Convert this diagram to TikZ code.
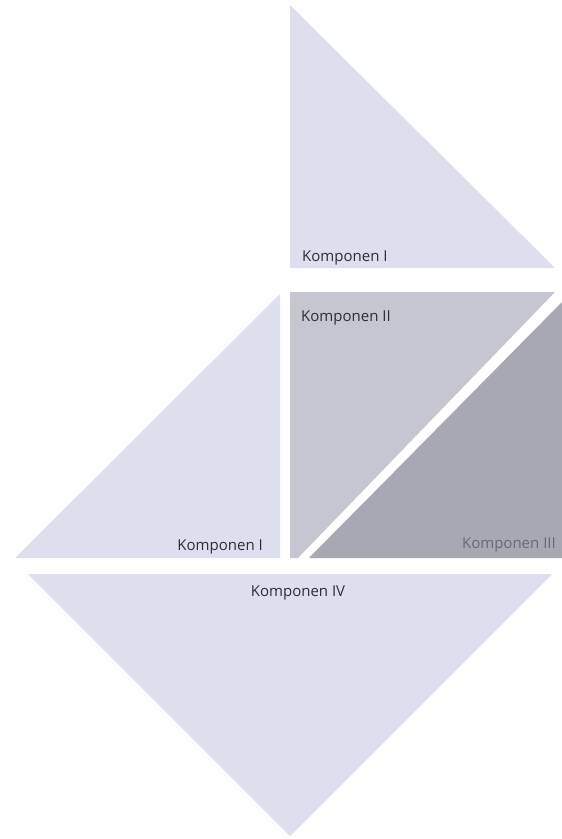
\documentclass[tikz,border=0pt]{standalone}
\usepackage{fontspec}
\setmainfont{Open Sans}
\usepackage{xcolor}
\usepackage{tikz}
\usetikzlibrary{positioning}

\definecolor{lavender}{HTML}{DEDFEE}
\definecolor{greymid}{HTML}{C6C6D1}
\definecolor{greydark}{HTML}{A8A8B2}
\definecolor{labelgrey}{HTML}{2E2E33}
\definecolor{labelsoft}{HTML}{6A6A74}

\begin{document}
\begin{tikzpicture}[x=1pt,y=-1pt,
  piece/.style={fill=#1,draw=none},
  lbl/.style={font=\fontsize{15}{18}\selectfont,text=labelgrey,inner sep=0pt}]
  \useasboundingbox (0,0) rectangle (562,839);
  % triangles
  \fill[piece=lavender] (290,5) -- (290,268) -- (555,268) -- cycle;
  \fill[piece=lavender] (15,558) -- (280,558) -- (280,294) -- cycle;
  \fill[piece=greymid] (290,292) -- (555,292) -- (298,558) -- (290,558) -- cycle;
  \fill[piece=greydark] (562,302) -- (562,558) -- (309,558) -- cycle;
  \fill[piece=lavender] (28,574) -- (552,574) -- (290,836) -- cycle;
  % labels
  \node[lbl,anchor=base west] (kTop) at (302,261) {Komponen I};
  \node[lbl,anchor=base east] (kLeft) at (263,550) {Komponen I};
  \node[lbl,anchor=base west] (kTwo) at (301,321) {Komponen II};
  \node[lbl,anchor=base east,text=labelsoft] (kThree) at (556,548) {Komponen III};
  \node[lbl,anchor=base] (kFour) at (298,596) {Komponen IV};
\end{tikzpicture}
\end{document}
